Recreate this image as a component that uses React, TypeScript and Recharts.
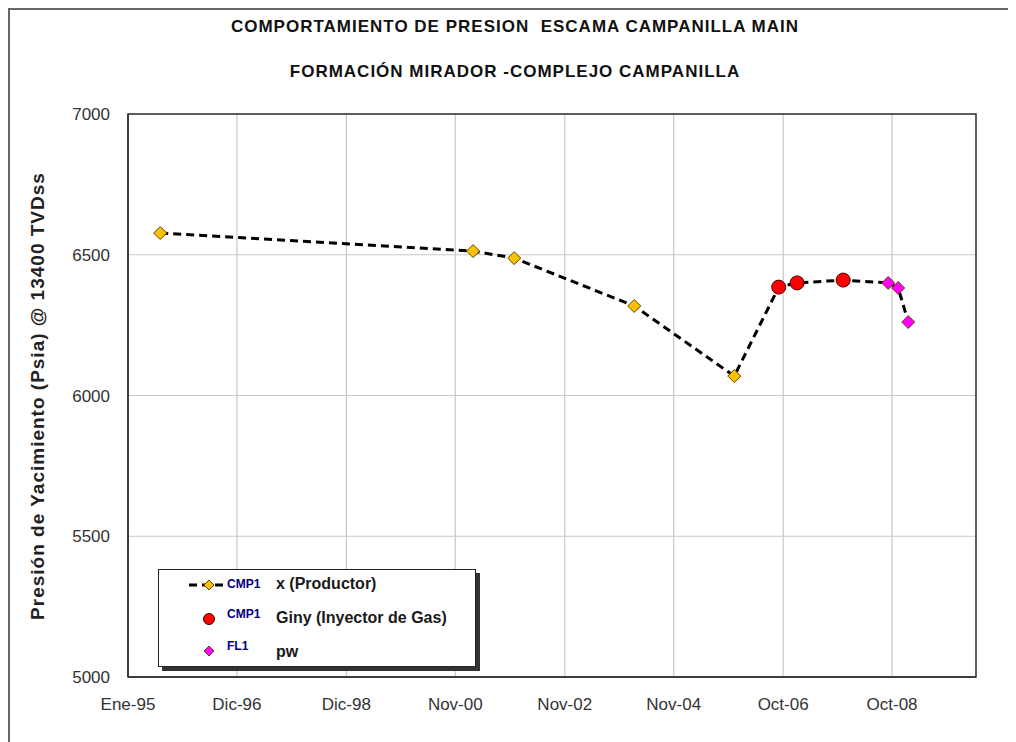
import {
  CartesianGrid,
  ComposedChart,
  Line,
  ReferenceArea,
  Scatter,
  XAxis,
  YAxis,
} from "recharts";

const FONT = "'Liberation Sans', Arial, sans-serif";

// fechas en años decimales, presiones en psia
const prodX = [1995.58, 2001.21, 2001.95, 2004.11, 2005.91];
const prodY = [6577, 6513, 6488, 6318, 6069];
const gasX = [2006.71, 2007.04, 2007.87];
const gasY = [6385, 6400, 6410];
const pwX = [2008.68, 2008.86, 2009.04];
const pwY = [6400, 6382, 6261];

const xTicks = [1995, 1996.96, 1998.93, 2000.89, 2002.86, 2004.82, 2006.79, 2008.75];
const xLabels = ["Ene-95", "Dic-96", "Dic-98", "Nov-00", "Nov-02", "Nov-04", "Oct-06", "Oct-08"];
const yTicks = [5000, 5500, 6000, 6500, 7000];
const X_DOMAIN: [number, number] = [1995, 2010.26];

const prod = prodX.map((x, i) => ({ x, y: prodY[i] }));
const gas = gasX.map((x, i) => ({ x, y: gasY[i] }));
const pw = pwX.map((x, i) => ({ x, y: pwY[i] }));
const all = [...prod, ...gas, ...pw];

function Diamond({ cx, cy, fill, r = 6.5 }: { cx: number; cy: number; fill: string; r?: number }) {
  return (
    <polygon
      points={`${cx},${cy - r} ${cx + r},${cy} ${cx},${cy + r} ${cx - r},${cy}`}
      fill={fill}
      stroke="#5a4a00"
      strokeWidth={1}
    />
  );
}

function Dot({ cx, cy }: { cx: number; cy: number }) {
  return <circle cx={cx} cy={cy} r={7} fill="#ff0000" stroke="#400000" strokeWidth={1} />;
}

function Legend() {
  const row = { position: "absolute" as const, left: 0, width: 300, height: 1 };
  const code = { fontSize: 12, fontWeight: 700, color: "#000080", position: "absolute" as const, left: 68 };
  const text = { fontSize: 16, fontWeight: 700, color: "#1a1a1a", position: "absolute" as const, left: 117 };
  return (
    <div
      style={{
        position: "absolute",
        left: 148,
        top: 559,
        width: 316,
        height: 96,
        border: "1px solid #222",
        background: "#fff",
        boxShadow: "4px 4px 0 #333",
        fontFamily: FONT,
      }}
    >
      <div style={{ ...row, top: 15 }}>
        <svg width={44} height={12} style={{ position: "absolute", left: 28, top: -6 }}>
          <line x1={2} y1={6} x2={40} y2={6} stroke="#000" strokeWidth={3} strokeDasharray="8 5" />
          <Diamond cx={22} cy={6} r={5} fill="#ffc000" />
        </svg>
        <span style={{ ...code, top: -8 }}>CMP1</span>
        <span style={{ ...text, top: -10 }}>x (Productor)</span>
      </div>
      <div style={{ ...row, top: 49 }}>
        <svg width={16} height={16} style={{ position: "absolute", left: 42, top: -8 }}>
          <circle cx={8} cy={8} r={5.5} fill="#ff0000" stroke="#400000" strokeWidth={1} />
        </svg>
        <span style={{ ...code, top: -12 }}>CMP1</span>
        <span style={{ ...text, top: -10 }}>Giny (Inyector de Gas)</span>
      </div>
      <div style={{ ...row, top: 81 }}>
        <svg width={16} height={16} style={{ position: "absolute", left: 42, top: -8 }}>
          <Diamond cx={8} cy={8} r={5} fill="#ff00ff" />
        </svg>
        <span style={{ ...code, top: -12 }}>FL1</span>
        <span style={{ ...text, top: -8 }}>pw</span>
      </div>
    </div>
  );
}

export default function App() {
  const title = {
    position: "absolute" as const,
    left: 0,
    width: 1010,
    textAlign: "center" as const,
    fontSize: 17,
    letterSpacing: 1,
    fontWeight: 700,
    color: "#111",
    whiteSpace: "pre" as const,
  };
  return (
    <div
      style={{
        position: "relative",
        width: 1008,
        height: 734,
        overflow: "hidden",
        borderTop: "2px solid #666",
        borderLeft: "2px solid #666",
        boxSizing: "border-box",
        background: "#fff",
        fontFamily: FONT,
      }}
    >
      <div style={{ ...title, top: 7 }}>{"COMPORTAMIENTO DE PRESION  ESCAMA CAMPANILLA MAIN"}</div>
      <div style={{ ...title, top: 52 }}>FORMACIÓN MIRADOR -COMPLEJO CAMPANILLA</div>
      <div
        style={{
          position: "absolute",
          left: 28,
          top: 386,
          transform: "translate(-50%, -50%) rotate(-90deg)",
          fontSize: 19,
          letterSpacing: 1,
          fontWeight: 700,
          color: "#222",
          whiteSpace: "nowrap",
        }}
      >
        Presión de Yacimiento (Psia) @ 13400 TVDss
      </div>
      <div style={{ position: "absolute", left: 0, top: 0 }}>
        <ComposedChart
          width={1006}
          height={732}
          margin={{ top: 104, right: 40, bottom: 35, left: 58 }}
        >
          <CartesianGrid stroke="#c8c8c8" strokeWidth={1.2} />
          <XAxis
            type="number"
            dataKey="x"
            domain={X_DOMAIN}
            ticks={xTicks}
            tickFormatter={(v: number) => xLabels[xTicks.indexOf(v)] ?? ""}
            allowDataOverflow
            height={30}
            tickLine={false}
            axisLine={{ stroke: "#333", strokeWidth: 1.5 }}
            tickSize={19}
            tickMargin={2}
            tick={{ fill: "#333", fontSize: 17, fontFamily: FONT }}
          />
          <YAxis
            type="number"
            dataKey="y"
            domain={[5000, 7000]}
            ticks={yTicks}
            allowDataOverflow
            width={60}
            tickLine={false}
            axisLine={{ stroke: "#333", strokeWidth: 1.5 }}
            tickSize={16}
            tickMargin={2}
            tick={{ fill: "#333", fontSize: 17, fontFamily: FONT }}
          />
          <ReferenceArea
            x1={X_DOMAIN[0]}
            x2={X_DOMAIN[1]}
            y1={5000}
            y2={7000}
            fill="none"
            stroke="#333"
            strokeWidth={1.5}
          />
          <Line
            data={all}
            dataKey="y"
            type="linear"
            stroke="#000"
            strokeWidth={3}
            strokeDasharray="8 5"
            dot={false}
            isAnimationActive={false}
          />
          <Scatter
            data={prod}
            dataKey="y"
            isAnimationActive={false}
            shape={(p: any) => <Diamond cx={p.cx} cy={p.cy} fill="#ffc000" />}
          />
          <Scatter
            data={gas}
            dataKey="y"
            isAnimationActive={false}
            shape={(p: any) => <Dot cx={p.cx} cy={p.cy} />}
          />
          <Scatter
            data={pw}
            dataKey="y"
            isAnimationActive={false}
            shape={(p: any) => <Diamond cx={p.cx} cy={p.cy} fill="#ff00ff" />}
          />
        </ComposedChart>
      </div>
      <Legend />
    </div>
  );
}
